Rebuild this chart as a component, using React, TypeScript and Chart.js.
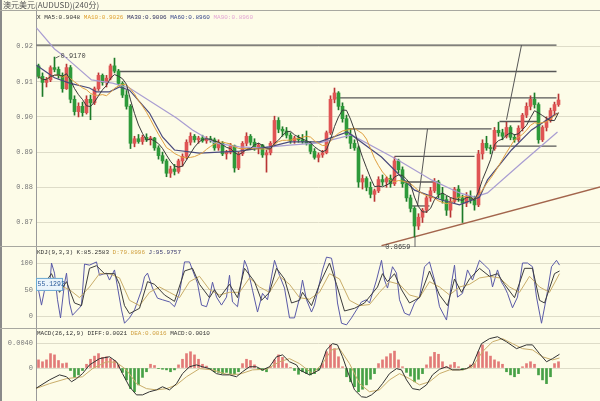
import React, { useEffect, useRef } from "react";
import { Chart, registerables } from "chart.js";

Chart.register(...registerables);

// ---------- text ----------
const titleText = "澳元美元(AUDUSD)(240分)";
const maLegend: [string, string][] = [
  ["X ", "#222"],
  ["MA5:0.9048 ", "#333"],
  ["MA10:0.9026 ", "#e0a030"],
  ["MA30:0.9006 ", "#2c2c5c"],
  ["MA60:0.8960 ", "#34448a"],
  ["MA90:0.8960", "#e3a6d4"],
];
const kdjLegend: [string, string][] = [
  ["KDJ(9,3,3) ", "#333"],
  ["K:85.2583 ", "#333"],
  ["D:79.8996 ", "#d0a040"],
  ["J:95.9757", "#3a3a70"],
];
const macdLegend: [string, string][] = [
  ["MACD(26,12,9) ", "#333"],
  ["DIFF:0.0021 ", "#333"],
  ["DEA:0.0016 ", "#d0a040"],
  ["MACD:0.0010", "#333"],
];

// ---------- ticks ----------
const priceTicks = [0.87, 0.88, 0.89, 0.9, 0.91, 0.92];
const kdjTicks = [0, 20, 50, 80, 100];
const macdTicks = [0, 0.004];

// ---------- candles (240-minute bars) ----------
const opens = [
  .9145,.9115,.9098,.9105,.9140,.9135,.9118,.9080,.9140,.9050,
  .9015,.9030,.9012,.9050,.9040,.9080,.9118,.9098,.9110,.9145,
  .9130,.9095,.9062,.9030,.8925,.8938,.8930,.8942,.8935,.8940,
  .8912,.8890,.8875,.8840,.8852,.8845,.8875,.8888,.8928,.8945,
  .8935,.8940,.8932,.8938,.8935,.8912,.8925,.8895,.8900,.8918,
  .8855,.8895,.8925,.8945,.8928,.8910,.8920,.8892,.8898,.8925,
  .8990,.8965,.8960,.8948,.8932,.8940,.8935,.8930,.8925,.8902,
  .8885,.8892,.8898,.8955,.9050,.9068,.9030,.8995,.8950,.8925,
  .8912,.8815,.8825,.8800,.8780,.8790,.8822,.8815,.8825,.8810,
  .8875,.8850,.8810,.8770,.8740,.8690,.8715,.8735,.8770,.8790,
  .8815,.8780,.8765,.8735,.8760,.8795,.8770,.8755,.8775,.8765,
  .8750,.8895,.8925,.8912,.8910,.8962,.8955,.8945,.8970,.8942,
  .8935,.8968,.9005,.9030,.9050,.9035,.8935,.8970,.8990,.9018,
  .9035,
];
const highs = [
  .9150,.9125,.9112,.9145,.9170,.9142,.9125,.9150,.9146,.9060,
  .9040,.9042,.9060,.9062,.9085,.9125,.9122,.9118,.9150,.9167,
  .9135,.9100,.9075,.9035,.8945,.8950,.8948,.8952,.8945,.8942,
  .8918,.8900,.8880,.8860,.8865,.8880,.8895,.8935,.8955,.8950,
  .8945,.8948,.8944,.8945,.8940,.8935,.8930,.8905,.8925,.8920,
  .8900,.8930,.8955,.8950,.8938,.8925,.8922,.8905,.8930,.9002,
  .8998,.8972,.8970,.8955,.8945,.8948,.8950,.8960,.8930,.8910,
  .8898,.8905,.8960,.9060,.9082,.9072,.9040,.9005,.8965,.8935,
  .8918,.8835,.8830,.8815,.8795,.8830,.8835,.8830,.8835,.8886,
  .8880,.8858,.8818,.8778,.8745,.8725,.8740,.8775,.8800,.8825,
  .8820,.8800,.8775,.8770,.8800,.8805,.8778,.8785,.8790,.8775,
  .8905,.8935,.8945,.8920,.8970,.8985,.8965,.8985,.8975,.8950,
  .8975,.9010,.9040,.9060,.9068,.9040,.8975,.9000,.9025,.9042,
  .9065,
];
const lows = [
  .9110,.9058,.9085,.9100,.9128,.9110,.9070,.9078,.9040,.9005,
  .9000,.9002,.9008,.8992,.9035,.9075,.9090,.9085,.9105,.9125,
  .9090,.9055,.9022,.8910,.8915,.8925,.8922,.8930,.8920,.8905,
  .8880,.8868,.8830,.8828,.8835,.8840,.8860,.8880,.8920,.8928,
  .8925,.8928,.8925,.8928,.8905,.8905,.8890,.8880,.8895,.8843,
  .8850,.8890,.8918,.8920,.8905,.8895,.8885,.8843,.8892,.8920,
  .8955,.8945,.8940,.8925,.8925,.8928,.8925,.8920,.8895,.8880,
  .8872,.8885,.8895,.8950,.9040,.9020,.8985,.8940,.8910,.8905,
  .8800,.8795,.8790,.8770,.8760,.8785,.8805,.8800,.8800,.8805,
  .8840,.8800,.8760,.8730,.8659,.8680,.8700,.8728,.8760,.8785,
  .8770,.8755,.8720,.8715,.8755,.8760,.8700,.8745,.8755,.8735,
  .8745,.8880,.8905,.8895,.8905,.8945,.8935,.8940,.8935,.8928,
  .8930,.8960,.8998,.9020,.9025,.8925,.8930,.8960,.8985,.9005,
  .9030,
];
const closes = [
  .9115,.9098,.9105,.9140,.9135,.9118,.9080,.9140,.9050,.9015,
  .9030,.9012,.9050,.9040,.9080,.9118,.9098,.9110,.9145,.9130,
  .9095,.9062,.9030,.8925,.8938,.8930,.8942,.8935,.8940,.8912,
  .8890,.8875,.8840,.8852,.8845,.8875,.8888,.8928,.8945,.8935,
  .8940,.8932,.8938,.8935,.8912,.8925,.8895,.8900,.8918,.8855,
  .8895,.8925,.8945,.8928,.8910,.8920,.8892,.8898,.8925,.8990,
  .8965,.8960,.8948,.8932,.8940,.8935,.8930,.8925,.8902,.8885,
  .8892,.8898,.8955,.9050,.9068,.9030,.8995,.8950,.8925,.8912,
  .8815,.8825,.8800,.8780,.8790,.8822,.8815,.8825,.8810,.8875,
  .8850,.8810,.8770,.8740,.8690,.8715,.8735,.8770,.8790,.8815,
  .8780,.8765,.8735,.8760,.8795,.8770,.8755,.8775,.8765,.8750,
  .8895,.8925,.8912,.8910,.8962,.8955,.8945,.8970,.8942,.8935,
  .8968,.9005,.9030,.9050,.9035,.8935,.8970,.8990,.9018,.9035,
  .9048,
];

// ---------- slower moving averages: [bar, price] ----------
const ma30Line = [
  [-0.5,.9147],[4,.9111],[7.75,.9096],[12.75,.9082],[14.5,.9071],[17.75,.9071],[20.25,.9085],
  [22.75,.9076],[27.75,.9011],[31,.8943],[34,.8906],[40.25,.8897],[50.25,.8903],[57.75,.8915],
  [62.75,.8929],[70.25,.8929],[77.25,.8957],[85.75,.8886],[94,.8792],[100.75,.8764],
  [105.25,.8750],[110.25,.8772],[112.25,.8821],[118.25,.8906],[123.25,.8963],[129.75,.9011],
];
const ma60Line = [
  [-0.5,.9253],[4,.9193],[7,.9167],[13.25,.9105],[18.5,.9096],[22.75,.9082],[34.5,.8997],
  [38.5,.8963],[44,.8926],[50.25,.8915],[55.25,.8912],[62.75,.8920],[70.25,.8926],[78.25,.8949],
  [89.75,.8878],[98.25,.8821],[105.25,.8784],[109,.8772],[112.25,.8784],[120.75,.8869],[129.75,.8957],
];

// ---------- drawn studies: [price, fromBar, toBar] ----------
const levelLines = [
  [.9204, -0.5, 129.5],
  [.9129, 19.75, 129.5],
  [.9054, 74.5, 129.5],
  [.8966, 77.25, 113.25],
  [.8987, 115.25, 124.75],
  [.8917, 114, 129.5],
  [.8888, 89, 109],
  [.8815, 91, 99.75],
  [.8747, 93.25, 97.75],
];
// [bar1, price1, bar2, price2]
const slantLines = [
  [94.75, .8747, 97.25, .8966],
  [117, .8992, 120.75, .9204],
];
const trendLine = [85.75, .8634, 140.4, .8801];

// ---------- KDJ: [bar, value] ----------
const kLine = [
  [-0.5,60],[1.5,62],[3.25,80],[5.25,45],[7,65],[9,25],[10.75,20],[12.75,90],[14.5,95],[16.5,80],
  [19,80],[20.25,60],[21.5,20],[22.75,5],[25.25,15],[27.25,65],[29,60],[31.5,40],[34,28],[36.5,85],
  [38.5,90],[40.25,60],[42.75,35],[44,50],[45.25,35],[47.75,60],[49.75,35],[51.5,90],[54,65],[55.75,30],
  [57.75,45],[59.5,90],[61.5,70],[63.25,25],[65.25,30],[66,45],[68.25,20],[70.25,60],[72.75,100],[74.5,60],
  [76.5,10],[79,15],[81.5,25],[84.75,55],[86,80],[87.25,65],[89,80],[90.75,50],[92.75,25],[95.25,35],
  [97.75,85],[100.25,40],[102.25,20],[104,70],[105.75,45],[107.75,70],[110.25,90],[112.75,75],[114.75,80],
  [116.5,60],[119,35],[121.5,90],[123.5,90],[125.25,30],[126.5,25],[129,80],[130.25,85],
];
const dLine = [
  [-0.5,55],[2.75,55],[5.25,58],[7.75,50],[10.25,35],[12.75,55],[15.25,80],[17.75,80],[20.25,72],
  [22.75,30],[25.25,20],[27.75,45],[30.25,55],[32.75,45],[35.25,35],[37.75,65],[40.25,75],[42.75,50],
  [45.25,40],[47.75,45],[50.25,45],[52.75,72],[55.25,55],[57.75,45],[60.25,75],[62.75,60],[65.25,35],
  [67.75,32],[70.25,45],[72.75,80],[75.25,70],[77.75,30],[80.25,20],[82.75,22],[85.25,45],[87.75,65],
  [90.25,60],[92.75,40],[95.25,35],[97.75,65],[100.25,55],[102.75,40],[105.25,55],[107.75,60],
  [110.25,72],[112.75,75],[115.25,72],[117.75,55],[120.25,45],[122.75,75],[125.25,55],[127.75,45],[130.25,80],
];
const jLine = [
  [-0.5,68],[0.75,21],[1.5,49],[2.75,53],[3.25,100],[4,81],[4.75,31],[5.5,-3],[6.5,62],[7,81],
  [7.75,25],[8.5,2],[10.25,16],[10.75,21],[11.5,98],[12.75,96],[14.5,102],[15.25,77],[17,81],[17.75,68],
  [19,87],[19.75,55],[20.75,12],[21.5,-13],[22.75,-3],[24,12],[25.75,49],[26.5,74],[27.25,81],[28.5,53],
  [29.75,34],[31,31],[32.75,27],[34,18],[35.25,43],[36.5,102],[37.75,102],[38.5,87],[39.75,62],[40.75,21],
  [42,18],[42.75,36],[43.5,64],[44.5,36],[45.75,21],[47,36],[47.75,77],[48.5,27],[49.75,18],[51.5,105],
  [52.25,91],[53.5,49],[54.75,8],[56,43],[57.25,31],[58.25,74],[59,105],[60.25,77],[61.5,53],[62.75,-3],
  [64,-3],[65.25,34],[66,68],[67,31],[68.25,8],[69,21],[71,87],[72,111],[73.25,109],[74,81],
  [74.75,25],[75.75,-13],[77,-16],[78.25,-3],[79.5,12],[80.75,27],[82,31],[82.75,25],[84.5,68],[85.75,105],
  [86.5,68],[87.25,53],[88.5,93],[89.5,81],[90.25,31],[91.5,6],[92.75,2],[94,25],[95.25,36],[96.5,93],
  [97.75,102],[99,68],[100.25,18],[102,-7],[103.25,62],[104,96],[104.75,36],[106,43],[107.25,87],[108.5,68],
  [110.25,105],[111.5,96],[112.75,87],[113.5,55],[114.75,87],[115.75,64],[116.5,55],[117.25,43],[118.5,16],
  [119.75,36],[121,100],[122.25,100],[123.5,93],[124.5,36],[125.75,-13],[127,36],[128.25,93],[129.5,105],[130.25,96],
];

// ---------- MACD ----------
const macdHist = [
  0.0013,0.0010,0.0013,0.0023,0.0021,0.0012,0.0007,0.0008,-0.0004,-0.0015,
  -0.0011,-0.0004,0.0006,0.0014,0.0019,0.0023,0.0017,0.0018,0.0015,0.0012,
  0.0005,-0.0007,-0.0019,-0.0033,-0.0038,-0.0027,-0.0015,-0.0006,0.0006,0.0004,
  -0.0001,-0.0002,-0.0003,-0.0006,-0.0003,0.0005,0.0014,0.0023,0.0026,0.0021,
  0.0014,0.0006,0.0003,-0.0002,-0.0006,-0.0007,-0.0009,-0.0007,-0.0009,-0.0010,
  -0.0006,0.0007,0.0014,0.0012,0.0005,-0.0002,-0.0004,-0.0006,0.0002,0.0013,
  0.0021,0.0017,0.0007,0.0001,-0.0004,-0.0010,-0.0006,-0.0009,-0.0011,-0.0009,
  -0.0003,0.0007,0.0026,0.0037,0.0031,0.0018,0.0002,-0.0014,-0.0022,-0.0030,
  -0.0038,-0.0034,-0.0027,-0.0018,-0.0009,0.0007,0.0013,0.0018,0.0023,0.0027,
  0.0013,0.0002,-0.0007,-0.0013,-0.0022,-0.0018,-0.0009,0.0005,0.0018,0.0025,
  0.0022,0.0010,0.0002,0.0005,0.0009,0.0002,-0.0003,-0.0001,0.0005,0.0007,
  0.0026,0.0037,0.0026,0.0019,0.0013,0.0010,0.0006,-0.0006,-0.0011,-0.0014,
  -0.0009,0.0002,0.0007,0.0010,0.0006,-0.0011,-0.0019,-0.0025,-0.0014,0.0007,
  0.0010,
];
const diffLine = [
  [-0.75,-0.0033],[2.75,-0.0019],[5.25,-0.0011],[7,-0.0014],[8.25,-0.0022],[9.5,-0.0017],[11,-0.0009],
  [12.75,0.0005],[15.25,0.0015],[17.75,0.0018],[19.5,0.0010],[21,-0.0009],[22.75,-0.0030],[24.5,-0.0043],
  [26,-0.0043],[27.75,-0.0038],[29.5,-0.0035],[31,-0.0030],[32.75,-0.0035],[34.5,-0.0025],[36,-0.0009],
  [37.75,0.0002],[39.5,0.0005],[41,0.0002],[42.75,-0.0001],[44.5,-0.0009],[46,-0.0011],[47.75,-0.0011],
  [49.5,-0.0014],[51,-0.0006],[52.75,0.0002],[54.5,0.0002],[56,-0.0003],[57.75,0.0002],[59.5,0.0018],
  [61,0.0021],[62.75,0.0010],[64.5,0.0005],[65.25,-0.0003],[67.75,-0.0011],[70.25,-0.0003],[72,0.0029],
  [73.5,0.0039],[74.75,0.0037],[76,0.0018],[77.75,-0.0014],[79,-0.0035],[80.75,-0.0046],[82,-0.0047],
  [83.25,-0.0043],[84.75,-0.0035],[86,-0.0025],[87.75,-0.0009],[89.5,-0.0001],[90.75,-0.0003],[92,-0.0019],
  [93.5,-0.0033],[95.25,-0.0035],[97,-0.0027],[98.5,-0.0011],[100.25,-0.0002],[102,0.0002],[103.5,-0.0003],
  [105.25,-0.0003],[107,-0.0001],[108.5,0.0005],[110.75,0.0039],[112.75,0.0047],[114.75,0.0050],[117,0.0042],
  [119.5,0.0031],[122,0.0037],[123.5,0.0037],[125.25,0.0023],[127,0.0010],[128.5,0.0015],[130.25,0.0022],
];
const deaLine = [
  [-0.75,-0.0033],[2.75,-0.0025],[7,-0.0017],[11,-0.0014],[13.5,-0.0001],[17,0.0010],[19.5,0.0009],
  [22,-0.0003],[24.5,-0.0025],[27,-0.0033],[29.5,-0.0035],[32,-0.0033],[34.5,-0.0027],[37,-0.0014],
  [40.25,-0.0001],[43.5,-0.0003],[47,-0.0010],[50.25,-0.0010],[53.5,-0.0003],[57,-0.0002],[60.25,0.0010],
  [62.75,0.0015],[65.25,0.0007],[68.5,-0.0009],[71,0.0007],[73.25,0.0029],[75.25,0.0031],[77.75,0.0007],
  [80.25,-0.0025],[82.75,-0.0038],[85.25,-0.0035],[87.75,-0.0019],[90.25,-0.0009],[92.75,-0.0017],
  [95.25,-0.0027],[97.75,-0.0022],[100.25,-0.0009],[102.75,-0.0003],[106,-0.0003],[108.5,0.0002],
  [111,0.0026],[113.5,0.0042],[116,0.0047],[118.5,0.0039],[121,0.0031],[123.5,0.0029],[126,0.0018],
  [128.5,0.0013],[130.25,0.0016],
];

// ---------- colours ----------
const BG = "#fdfce8";
const GRID = "#dedcc8";
const AXIS = "#9a9a9a";
const TICK = "#777";
const UP = "#e05454";
const UP_WICK = "#b83434";
const DOWN = "#2e9a3a";
const DOWN_WICK = "#1d7a28";
const MONO = "'Liberation Mono', 'DejaVu Sans Mono', monospace";

const pts = (arr: number[][]) => arr.map(([x, y]) => ({ x, y }));
const movingAverage = (n: number) =>
  closes.map((_, i) => {
    const w = closes.slice(Math.max(0, i - n + 1), i + 1);
    return { x: i, y: w.reduce((a, b) => a + b, 0) / w.length };
  });

function drawSegments(ctx: CanvasRenderingContext2D, segs: [string, string][], x: number, y: number, font: string) {
  ctx.font = font;
  ctx.textBaseline = "middle";
  ctx.textAlign = "left";
  let cx = x;
  for (const [t, c] of segs) {
    ctx.fillStyle = c;
    ctx.fillText(t, cx, y);
    cx += ctx.measureText(t).width;
  }
}

const decor = {
  id: "decor",
  beforeDraw(chart: any) {
    const { ctx, width, height } = chart;
    ctx.save();
    ctx.fillStyle = BG;
    ctx.fillRect(0, 0, width, height);
    ctx.restore();
  },
  afterDraw(chart: any) {
    const { ctx, width, height, chartArea } = chart;
    const xs = chart.scales.x;
    const yp = chart.scales.y;
    const yk = chart.scales.yK;
    const ym = chart.scales.yM;
    ctx.save();
    // frame
    ctx.fillStyle = "#8a8a8a";
    ctx.fillRect(0, 0, 2, height);
    ctx.strokeStyle = "#a8a8a0";
    ctx.lineWidth = 1;
    ctx.beginPath();
    ctx.moveTo(0, chartArea.top + 0.5);
    ctx.lineTo(width, chartArea.top + 0.5);
    ctx.moveTo(0, Math.round(yk.top) + 0.5);
    ctx.lineTo(width, Math.round(yk.top) + 0.5);
    ctx.moveTo(0, Math.round(ym.top) + 0.5);
    ctx.lineTo(width, Math.round(ym.top) + 0.5);
    ctx.stroke();

    // title and legends
    ctx.font = "8px 'Noto Sans CJK SC', sans-serif";
    ctx.fillStyle = "#555";
    ctx.textBaseline = "middle";
    ctx.fillText(titleText, 3, 5);
    const lf = `6px ${MONO}`;
    drawSegments(ctx, maLegend, chartArea.left + 1, chartArea.top + 7, lf);
    drawSegments(ctx, kdjLegend, chartArea.left + 1, yk.top + 6, lf);
    drawSegments(ctx, macdLegend, chartArea.left + 1, ym.top + 5, lf);

    // high / low labels
    ctx.font = `7px ${MONO}`;
    ctx.fillStyle = "#444";
    ctx.strokeStyle = "#666";
    const hx = xs.getPixelForValue(4);
    const hy = yp.getPixelForValue(highs[4]);
    ctx.beginPath();
    ctx.moveTo(hx + 1, hy + 1);
    ctx.lineTo(hx + 5, hy - 1);
    ctx.stroke();
    ctx.textAlign = "left";
    ctx.fillText("0.9170", hx + 6, hy - 1);
    const lx = xs.getPixelForValue(94);
    const ly = yp.getPixelForValue(lows[94]);
    ctx.beginPath();
    ctx.moveTo(lx + 0.5, ly);
    ctx.lineTo(lx + 0.5, ly + 10);
    ctx.stroke();
    ctx.textAlign = "right";
    ctx.fillText("0.8659", lx - 4, ly + 10);

    // KDJ value box
    const by = yk.getPixelForValue(55.1292);
    ctx.fillStyle = "#eaf4fb";
    ctx.fillRect(chartArea.left, by - 9, 27, 13);
    ctx.strokeStyle = "#6aa8d0";
    ctx.strokeRect(chartArea.left + 0.5, by - 8.5, 26, 12);
    ctx.fillStyle = "#2a5a9a";
    ctx.textAlign = "left";
    ctx.font = `6.5px ${MONO}`;
    ctx.fillText("55.1292", chartArea.left + 1.5, by - 2.5);
    ctx.restore();
  },
};

const yAxisBase = (ticks: number[], fmt: (v: number) => string) => ({
  type: "linear",
  position: "left",
  stack: "panels",
  afterBuildTicks: (s: any) => {
    s.ticks = ticks.map((v) => ({ value: v }));
  },
  afterFit: (s: any) => {
    s.width = 36;
    s.paddingTop = 0;
    s.paddingBottom = 0;
  },
  grid: { color: GRID, lineWidth: 1, drawTicks: false },
  border: { display: true, color: AXIS, width: 1 },
  ticks: {
    color: TICK,
    padding: 3,
    font: { family: MONO, size: 7 },
    callback: (v: any) => fmt(Number(v)),
  },
});

export default function App() {
  const ref = useRef<HTMLCanvasElement>(null);
  useEffect(() => {
    document.body.style.margin = "0";
    const canvas = ref.current!;
    const line = (data: any[], color: string, axis: string, width = 1) => ({
      type: "line",
      data,
      yAxisID: axis,
      borderColor: color,
      borderWidth: width,
      pointRadius: 0,
      fill: false,
      tension: 0,
    });

    const datasets: any[] = [
      line(movingAverage(5), "#3a3a3a", "y"),
      line(movingAverage(10), "#e0a040", "y"),
      line(pts(ma30Line), "#4a4a7c", "y", 1.2),
      line(pts(ma60Line), "#a99dd2", "y", 1.2),
      {
        type: "bar",
        yAxisID: "y",
        data: closes.map((c, i) => ({ x: i, y: [opens[i], c] })),
        backgroundColor: closes.map((c, i) => (c >= opens[i] ? UP : DOWN)),
        barThickness: 3,
        minBarLength: 1,
        grouped: false,
        borderWidth: 0,
      },
      {
        type: "bar",
        yAxisID: "y",
        data: closes.map((c, i) => ({ x: i, y: [lows[i], highs[i]] })),
        backgroundColor: closes.map((c, i) => (c >= opens[i] ? UP_WICK : DOWN_WICK)),
        barThickness: 1,
        grouped: false,
        borderWidth: 0,
      },
      ...levelLines.map(([p, a, b]) => line([{ x: a, y: p }, { x: b, y: p }], "#575757", "y", 1.3)),
      ...slantLines.map(([a, p, b, q]) => line([{ x: a, y: p }, { x: b, y: q }], "#575757", "y", 1)),
      line([{ x: trendLine[0], y: trendLine[1] }, { x: trendLine[2], y: trendLine[3] }], "#a3654c", "y", 1.3),
      line(pts(kLine), "#3c3c3c", "yK"),
      line(pts(dLine), "#c9ad6a", "yK"),
      line(pts(jLine), "#5a5aa8", "yK"),
      line(pts(diffLine), "#333333", "yM"),
      line(pts(deaLine), "#c9ad6a", "yM"),
      {
        type: "bar",
        yAxisID: "yM",
        data: macdHist.map((v, i) => ({ x: i, y: v })),
        backgroundColor: macdHist.map((v) => (v >= 0 ? "#e27a78" : "#46a046")),
        barThickness: 2,
        grouped: false,
        borderWidth: 0,
      },
    ];

    const chart = new Chart(canvas, {
      type: "bar",
      data: { datasets },
      options: {
        animation: false,
        responsive: false,
        maintainAspectRatio: false,
        events: [],
        layout: { padding: { top: 10, left: 0, right: 0, bottom: 0 } },
        plugins: { legend: { display: false }, tooltip: { enabled: false } },
        scales: {
          x: { type: "linear", min: -0.625, max: 140.375, display: false, offset: false },
          y: {
            ...yAxisBase(priceTicks, (v) => v.toFixed(2)),
            min: 0.863324,
            max: 0.930369,
            weight: 3,
            stackWeight: 236,
          },
          yK: {
            ...yAxisBase(kdjTicks, (v) => String(v)),
            min: -21.95,
            max: 131.9,
            weight: 2,
            stackWeight: 82,
          },
          yM: {
            ...yAxisBase(macdTicks, (v) => (v === 0 ? "0" : v.toFixed(4))),
            min: -0.00528,
            max: 0.0064,
            weight: 1,
            stackWeight: 73,
          },
        },
      } as any,
      plugins: [decor],
    } as any);
    return () => chart.destroy();
  }, []);
  return <canvas ref={ref} width={600} height={401} style={{ display: "block", width: 600, height: 401 }} />;
}
